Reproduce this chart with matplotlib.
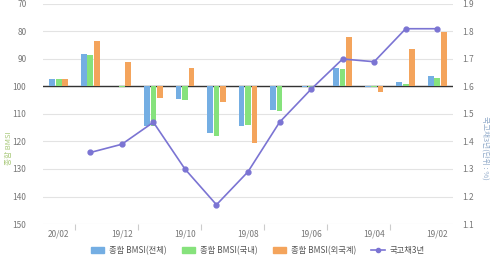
import numpy as np
import matplotlib.pyplot as plt

plt.rcParams['font.family'] = ['Noto Sans CJK KR', 'DejaVu Sans']

# ---- Data ----
months = ["20/02", "20/01", "19/12", "19/11", "19/10", "19/09", "19/08",
          "19/07", "19/06", "19/05", "19/04", "19/03", "19/02"]
bmsi_total = [97.3, 88.2, 99.8, 114.5, 104.5, 117.0, 114.4, 108.5, 100.2, 93.2, 100.1, 98.4, 96.1]
bmsi_domestic = [97.3, 88.5, 100.1, 114.5, 105.0, 117.9, 114.0, 109.0, 100.2, 93.8, 100.1, 99.0, 97.0]
bmsi_foreign = [97.3, 83.5, 91.1, 104.2, 93.3, 105.5, 120.4, 100.0, 100.0, 81.9, 101.9, 86.5, 80.3]
ktb3y = [np.nan, 1.36, 1.39, 1.47, 1.30, 1.17, 1.29, 1.47, 1.59, 1.70, 1.69, 1.81, 1.81]

c_blue = "#74aee3"
c_green = "#86e27c"
c_orange = "#f4a45c"
c_line = "#7b74d3"
c_grid = "#e3e3e3"
c_text = "#777777"

fig = plt.figure(figsize=(4.91, 2.65), dpi=100)
ax = fig.add_axes([0.0876, 0.1547, 0.835, 0.8303])
ax2 = ax.twinx()

x = np.arange(len(months))
w = 0.18
for off, vals, col in [(-0.205, bmsi_total, c_blue),
                       (0.0, bmsi_domestic, c_green),
                       (0.205, bmsi_foreign, c_orange)]:
    v = np.array(vals)
    ax.bar(x + off, v - 100, bottom=100, width=w, color=col, zorder=3)

ax.axhline(100, color="#333333", linewidth=1.0, zorder=2)

ax.set_ylim(150, 70)
ax.set_yticks(range(70, 151, 10))
ax.set_xlim(-0.5, len(months) - 0.5)
ax.set_xticks(x[::2])
ax.set_xticklabels(months[::2])
ax.set_xticks(x[::2][:-1] + 0.5, minor=True)
ax.tick_params(axis="x", which="major", length=0, pad=4, labelsize=6, labelcolor=c_text)
ax.tick_params(axis="x", which="minor", length=4, color="#cccccc", width=0.8)
ax.tick_params(axis="y", length=0, pad=12, labelsize=6, labelcolor=c_text)
ax.grid(axis="y", color=c_grid, linewidth=0.8, zorder=0)
ax.set_axisbelow(True)
for s in ax.spines.values():
    s.set_visible(False)

ax2.plot(x, ktb3y, color=c_line, linewidth=1.2, marker="o", markersize=3.5, zorder=5)
ax2.set_ylim(1.1, 1.9)
ax2.set_yticks(np.arange(1.1, 1.91, 0.1))
ax2.set_yticklabels([f"{t:.1f}" for t in np.arange(1.1, 1.91, 0.1)])
ax2.tick_params(axis="y", length=0, pad=7, labelsize=6, labelcolor=c_text)
for s in ax2.spines.values():
    s.set_visible(False)
ax.set_zorder(ax2.get_zorder() - 1)
ax.patch.set_visible(False)

fig.text(0.018, 0.44, "종합 BMSI", rotation=90, color="#a9c97a", fontsize=5.5,
         ha="center", va="center")
fig.text(0.988, 0.44, "국고채3년(단위 : %)", rotation=270, color="#8fa9c9", fontsize=5.5,
         ha="center", va="center")

handles = [plt.Rectangle((0, 0), 1, 1, color=c_blue),
           plt.Rectangle((0, 0), 1, 1, color=c_green),
           plt.Rectangle((0, 0), 1, 1, color=c_orange),
           plt.Line2D([], [], color=c_line, marker="o", markersize=3, linewidth=1.2)]
labels = ["종합 BMSI(전체)", "종합 BMSI(국내)", "종합 BMSI(외국계)", "국고채3년"]
fig.legend(handles, labels, loc="center", bbox_to_anchor=(0.525, 0.055), ncol=4,
           frameon=False, fontsize=6, labelcolor="#555555", handlelength=1.6,
           handleheight=0.8, columnspacing=1.8, handletextpad=0.6)

fig.savefig("out.png", dpi=100)
